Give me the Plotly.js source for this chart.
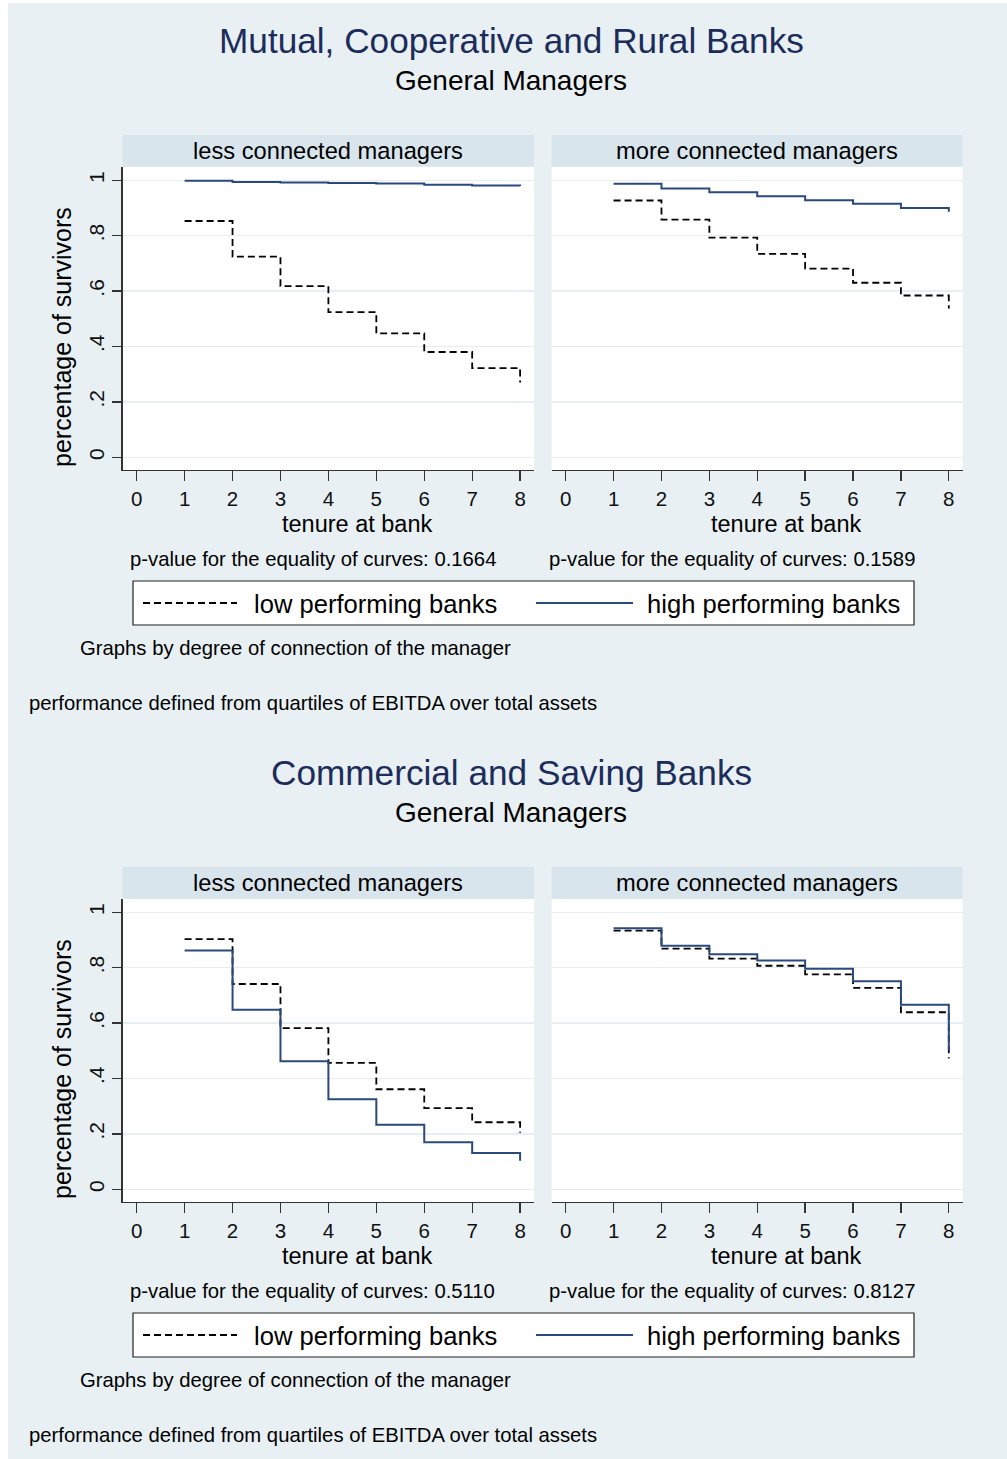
<!DOCTYPE html>
<html>
<head>
<meta charset="utf-8">
<script src="https://cdn.plot.ly/plotly-3.0.1.min.js"></script>
<style>html,body{margin:0;padding:0;background:#ffffff;}#chart{width:1007px;height:1459px;}</style>
</head>
<body>
<div id="chart"></div>
<script>
// ---------- data ----------
const tenure = [1, 2, 3, 4, 5, 6, 7, 8];
const xTickVals = [0, 1, 2, 3, 4, 5, 6, 7, 8];
const yTickVals = [0, 0.2, 0.4, 0.6, 0.8, 1];
const yTickText = ["0", ".2", ".4", ".6", ".8", "1"];

// Mutual, Cooperative and Rural Banks
const mcrLessLow  = [0.853, 0.724, 0.618, 0.524, 0.447, 0.380, 0.322, 0.270];
const mcrLessHigh = [0.998, 0.994, 0.992, 0.990, 0.988, 0.984, 0.981, 0.979];
const mcrMoreLow  = [0.927, 0.858, 0.793, 0.734, 0.681, 0.630, 0.584, 0.537];
const mcrMoreHigh = [0.987, 0.970, 0.957, 0.942, 0.928, 0.915, 0.900, 0.886];

// Commercial and Saving Banks
const csLessLow  = [0.903, 0.741, 0.582, 0.456, 0.361, 0.293, 0.242, 0.204];
const csLessHigh = [0.862, 0.648, 0.462, 0.325, 0.233, 0.170, 0.131, 0.103];
const csMoreLow  = [0.934, 0.869, 0.833, 0.807, 0.776, 0.727, 0.639, 0.472];
const csMoreHigh = [0.942, 0.879, 0.848, 0.826, 0.796, 0.751, 0.666, 0.502];

const blockTitles = ["Mutual, Cooperative and Rural Banks", "Commercial and Saving Banks"];
const subTitle = "General Managers";
const panelLabels = ["less connected managers", "more connected managers"];
const xTitle = "tenure at bank";
const yTitle = "percentage of survivors";
const pValues = [["0.1664", "0.1589"], ["0.5110", "0.8127"]];
const seriesNames = ["low performing banks", "high performing banks"];
const noteBy = "Graphs by degree of connection of the manager";
const notePerf = "performance defined from quartiles of EBITDA over total assets";

// ---------- styling ----------
const W = 1007, H = 1459;
const FONT = "Liberation Sans, Arial, Helvetica, sans-serif";
const BG = "#e8f0f3";
const STRIP = "#d9e5ec";
const GRID = "#e6eef1";
const AXIS = "#333333";
const NAVY = "#2a4a7e";
const X = px => px / W;
const Y = py => 1 - py / H;
const OFF = 732; // vertical offset of second block

const lowLine = {color: "#000000", width: 1.8, dash: "7px,4px", shape: "hv"};
const highLine = {color: NAVY, width: 2, shape: "hv"};

const sets = [
  [mcrLessLow, mcrLessHigh], [mcrMoreLow, mcrMoreHigh],
  [csLessLow, csLessHigh], [csMoreLow, csMoreHigh]
];

const data = [];
sets.forEach((s, i) => {
  const ax = i === 0 ? "" : String(i + 1);
  data.push({x: tenure, y: s[0], type: "scatter", mode: "lines", line: lowLine,
             name: seriesNames[0], showlegend: false, xaxis: "x" + ax, yaxis: "y" + ax, hoverinfo: "skip"});
  data.push({x: tenure, y: s[1], type: "scatter", mode: "lines", line: highLine,
             name: seriesNames[1], showlegend: false, xaxis: "x" + ax, yaxis: "y" + ax, hoverinfo: "skip"});
});

const xDomL = [X(122.7), X(534)];
const xDomR = [X(551.7), X(962.7)];
const yDomTop = [Y(470), Y(166.7)];
const yDomBot = [Y(470 + OFF), Y(166.7 + OFF)];

function xAxis(dom, anchor) {
  return {domain: dom, anchor: anchor, range: [-0.292, 8.29], tickmode: "array", tickvals: xTickVals,
          ticktext: xTickVals.map(String), ticks: "outside", ticklen: 10, tickwidth: 1.3, tickcolor: AXIS,
          showline: true, linecolor: AXIS, linewidth: 1.3, showgrid: false, zeroline: false,
          tickfont: {family: FONT, size: 20.5, color: "#111"}, fixedrange: true};
}
function yAxis(dom, anchor, labels) {
  return {domain: dom, anchor: anchor, range: [-0.046, 1.049], tickmode: "array", tickvals: yTickVals,
          ticktext: yTickText, ticks: labels ? "outside" : "", ticklen: 9, tickwidth: 1.3, tickcolor: AXIS,
          showticklabels: labels, tickangle: -90, showline: labels, linecolor: AXIS, linewidth: 1.3,
          showgrid: true, gridcolor: GRID, gridwidth: 1.5, zeroline: false,
          tickfont: {family: FONT, size: 21, color: "#111"}, fixedrange: true};
}

const shapes = [
  {type: "rect", xref: "paper", yref: "paper", x0: 0, x1: X(8), y0: 0, y1: 1, fillcolor: "#ffffff", line: {width: 0}, layer: "below"},
  {type: "rect", xref: "paper", yref: "paper", x0: 0, x1: 1, y0: Y(3), y1: 1, fillcolor: "#ffffff", line: {width: 0}, layer: "below"}
];
const annotations = [];
function txt(t, px, py, size, opts) {
  annotations.push(Object.assign({text: t, xref: "paper", yref: "paper", x: X(px), y: Y(py),
    showarrow: false, xanchor: "center", yanchor: "middle",
    font: {family: FONT, size: size, color: "#000"}}, opts || {}));
}

[0, 1].forEach(b => {
  const o = b * OFF;
  txt(blockTitles[b], 511, 40 + o, 35.2, {font: {family: FONT, size: 35.2, color: "#1c2c5b"}});
  txt(subTitle, 511, 81 + o, 28);
  // strips
  [xDomL, xDomR].forEach((d, j) => {
    shapes.push({type: "rect", xref: "paper", yref: "paper", x0: d[0], x1: d[1], y0: Y(166.7 + o), y1: Y(135 + o),
                 fillcolor: STRIP, line: {width: 0}, layer: "below"});
    txt(panelLabels[j], (d[0] + d[1]) / 2 * W, 151 + o, 23.7);
  });
  txt(xTitle, 357, 524 + o, 23.5);
  txt(xTitle, 786, 524 + o, 23.5);
  txt(yTitle, 62, 337 + o, 25, {textangle: -90});
  txt("p-value for the equality of curves: " + pValues[b][0], 128, 559 + o, 20.3, {xanchor: "left"});
  txt("p-value for the equality of curves: " + pValues[b][1], 547, 559 + o, 20.3, {xanchor: "left"});
  // legend box
  shapes.push({type: "rect", xref: "paper", yref: "paper", x0: X(133), x1: X(914), y0: Y(625 + o), y1: Y(581 + o),
               fillcolor: "#ffffff", line: {color: "#222", width: 1.2}});
  shapes.push({type: "line", xref: "paper", yref: "paper", x0: X(143), x1: X(237), y0: Y(603 + o), y1: Y(603 + o),
               line: {color: "#000", width: 1.8, dash: "7px,4px"}});
  shapes.push({type: "line", xref: "paper", yref: "paper", x0: X(536), x1: X(633), y0: Y(603 + o), y1: Y(603 + o),
               line: {color: NAVY, width: 2}});
  txt(seriesNames[0], 252, 604 + o, 25.6, {xanchor: "left"});
  txt(seriesNames[1], 645, 604 + o, 25.6, {xanchor: "left"});
  txt(noteBy, 78, 648 + o, 20.3, {xanchor: "left"});
  txt(notePerf, 27, 703 + o, 20.3, {xanchor: "left"});
});

const layout = {
  width: W, height: H, margin: {l: 0, r: 0, t: 0, b: 0},
  paper_bgcolor: BG, plot_bgcolor: "#ffffff", showlegend: false,
  font: {family: FONT, color: "#000"},
  xaxis: xAxis(xDomL, "y"), yaxis: yAxis(yDomTop, "x", true),
  xaxis2: xAxis(xDomR, "y2"), yaxis2: yAxis(yDomTop, "x2", false),
  xaxis3: xAxis(xDomL, "y3"), yaxis3: yAxis(yDomBot, "x3", true),
  xaxis4: xAxis(xDomR, "y4"), yaxis4: yAxis(yDomBot, "x4", false),
  shapes: shapes, annotations: annotations
};

Plotly.newPlot("chart", data, layout, {displayModeBar: false, staticPlot: true});
</script>
</body>
</html>
